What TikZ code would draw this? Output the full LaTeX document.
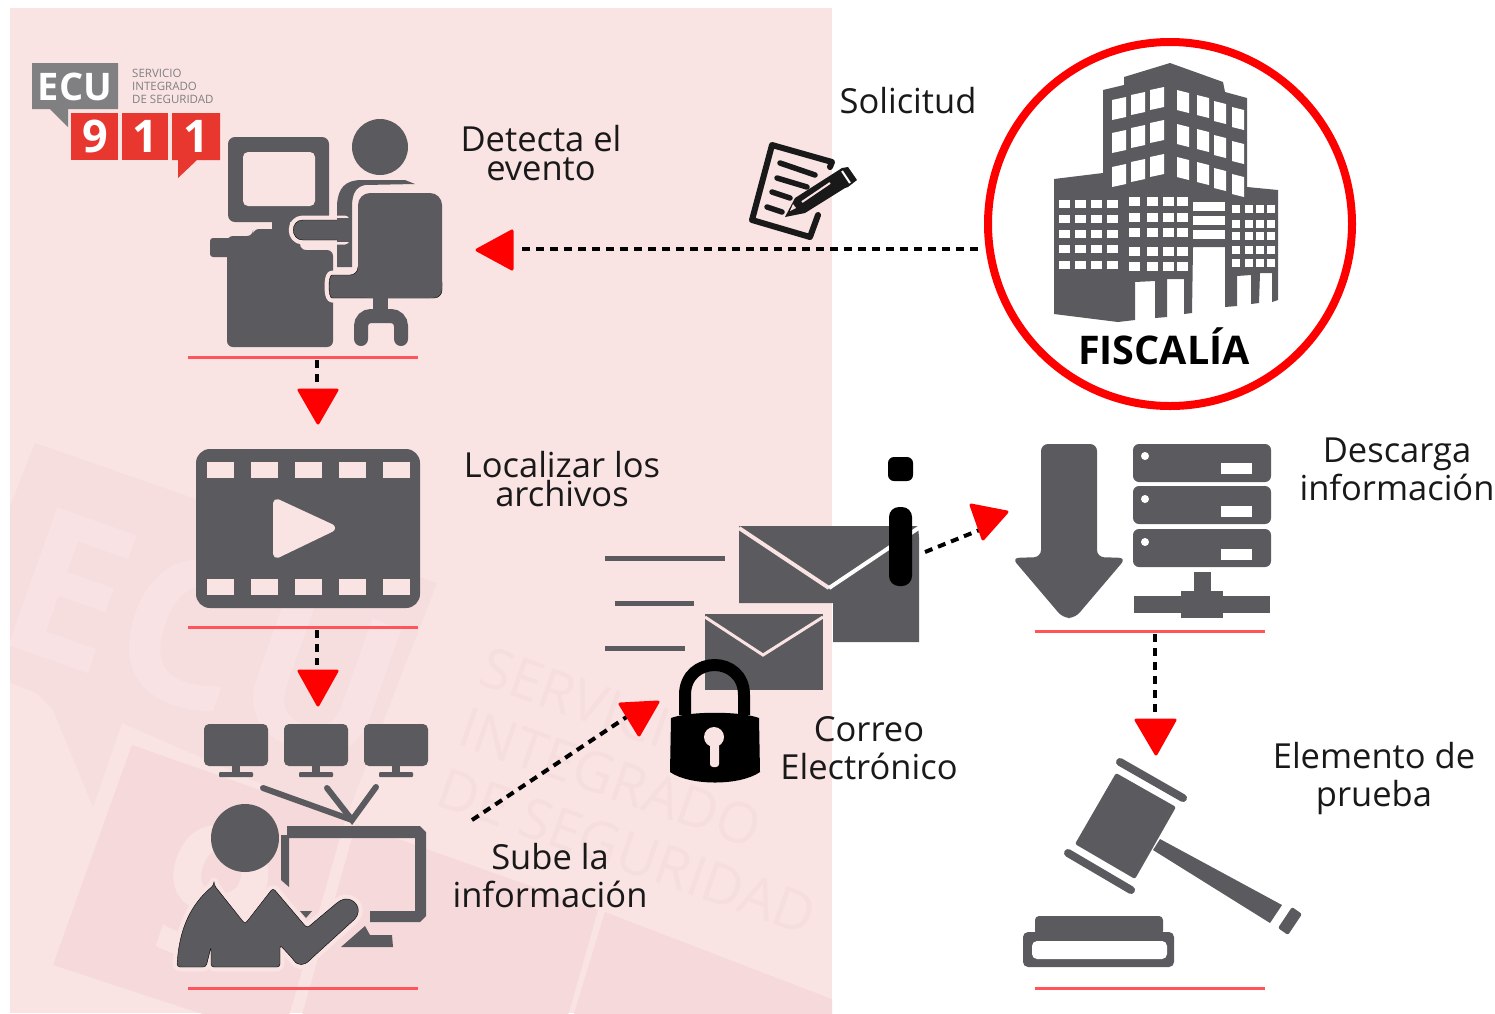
\documentclass[tikz,border=0pt]{standalone}
\usepackage{fontspec}
\setmainfont{Open Sans}
\definecolor{fondo}{HTML}{F9E3E3}
\definecolor{marca}{HTML}{F6DEDF}
\definecolor{marcab}{HTML}{F6D9DB}
\definecolor{marcaletra}{HTML}{F8E2E3}
\definecolor{marcatxt}{HTML}{F6DEDF}
\definecolor{icono}{HTML}{5B5A5E}
\definecolor{logogris}{HTML}{808082}
\definecolor{logorojo}{HTML}{E8372F}
\definecolor{linearoja}{HTML}{FF555A}
\tikzset{
  flujo/.style={line width=4pt, dash pattern=on 8pt off 6pt},
  punta/.style={fill=red, draw=red, line width=3pt, line join=round},
  base/.style={linearoja, line width=3pt},
  corte/.style={preaction={draw=fondo, line width=9pt, line join=round}, fill=icono},
  etiqueta/.style={font=\fontsize{34.5}{38}\selectfont, align=center, inner sep=0pt, text=black!90},
  etiquetab/.style={font=\fontsize{34.5}{29}\selectfont, align=center, inner sep=0pt, text=black!90}
}
\begin{document}
\begin{tikzpicture}[x=1pt,y=-1pt]
\useasboundingbox (0,0) rectangle (1495,1013);
\fill[white] (0,0) rectangle (1495,1013);
\fill[fondo] (10,8) rectangle (832,1013);

% marca de agua
\begin{scope}
\clip (10,8) rectangle (832,1013);
\fill[marca] (35,443) -- (437,583) -- (345,820) -- (122,723) -- (93,807) -- (53,710) -- (37,693) -- (-50,660) -- cycle;
\fill[marcab] (132,745) -- (345,820) -- (282,1040) -- (53,965) -- cycle;
\fill[marcab] (356,824) -- (598,910) -- (561,1040) -- (295,1040) -- cycle;
\fill[marcab] (605,912) -- (860,1010) -- (860,1040) -- (566,1040) -- cycle;
\node (wmecu) [rotate=-19.5, text=marcaletra, font=\fontsize{205}{205}\selectfont\bfseries, inner sep=0pt] at (205,637) {ECU};
\node (wmnueve) [rotate=-19.5, text=fondo, font=\fontsize{190}{190}\selectfont\bfseries, inner sep=0pt] at (215,895) {9};
\node (wmtxt) [rotate=-19.5, anchor=north west, align=left, text=marcatxt, inner sep=0pt, font=\fontsize{56}{64}\selectfont] at (490,645) {SERVICIO\\INTEGRADO\\DE SEGURIDAD};
\end{scope}

% logo
\fill[logogris] (32,63) -- (118,63) -- (118,109) -- (68,109) -- (68,127) -- (50,109) -- (32,109) -- cycle;
\node (ecu) [white, font=\fontsize{38}{38}\selectfont\bfseries, inner sep=0pt] at (75,87) {ECU};
\node (servicio) [logogris, anchor=west, align=left, inner sep=0pt, font=\fontsize{11.5}{13}\selectfont] at (132,86) {SERVICIO\\INTEGRADO\\DE SEGURIDAD};
\fill[logorojo] (71,113) rectangle (118,160);
\fill[logorojo] (122,113) rectangle (168,160);
\fill[logorojo] (172,113) -- (220,113) -- (220,160) -- (197,160) -- (178,178) -- (178,160) -- (172,160) -- cycle;
\node (nueve) [white, font=\fontsize{45}{45}\selectfont\bfseries, inner sep=0pt] at (95,136) {9};
\node (uno) [white, font=\fontsize{45}{45}\selectfont\bfseries, inner sep=0pt] at (145,136) {1};
\node (unob) [white, font=\fontsize{45}{45}\selectfont\bfseries, inner sep=0pt] at (196,136) {1};

% operador
\fill[icono, rounded corners=7pt] (228,137) rectangle (329,222);
\fill[fondo, rounded corners=5pt] (243,152) rectangle (315,206);
\fill[icono] (272,220) rectangle (290,232);
\fill[icono, rounded corners=3pt] (210,238) rectangle (240,257);
\fill[icono, rounded corners=6pt] (253,236) -- (253,229) -- (300,229) -- (300,250) -- (333,250) -- (333,347) -- (227,347) -- (227,236) -- cycle;
\fill[icono] (380,147) circle (28);
\fill[icono] (337,267) -- (337,205) .. controls (338,188) and (345,180) .. (362,180) -- (405,180) -- (415,184) -- (365,185) .. controls (355,187) and (352,195) .. (352,207) -- (352,267) -- cycle;
\draw[corte] (345,220) -- (303,220) .. controls (290,220) and (290,240) .. (303,240) -- (345,240) -- cycle;
\fill[icono] (337,218) rectangle (352,242);
\draw[corte, rounded corners=8pt] (358,275) -- (340,275) .. controls (328,275) and (328,298) .. (340,298) -- (442,298) -- (442,275) -- (358,275) -- cycle;
\fill[icono, rounded corners=12pt] (358,193) rectangle (442,298);
\fill[icono] (373,296) rectangle (388,312);
\draw[icono, line width=14pt, line cap=round, rounded corners=10pt] (361,339) -- (361,316) -- (401,316) -- (401,339);
\node (detecta) [etiquetab] at (541,153) {Detecta el\\evento};
\draw[base] (188,357) -- (418,357);

% video
\fill[icono, rounded corners=14pt] (196,449) rectangle (420,608);
\foreach \x in {207,251,295,339,383} {
  \fill[fondo] (\x,462) rectangle ++(27,16);
  \fill[fondo] (\x,579) rectangle ++(27,16);
}
\fill[fondo, draw=fondo, line width=8pt, line join=round] (277,503) -- (277,554) -- (331,528) -- cycle;
\node (localizar) [etiquetab] at (562,479) {Localizar los\\archivos};
\draw[base] (188,627) -- (418,627);

% monitores
\foreach \x in {236,316,396} {
  \fill[icono, rounded corners=5pt] (\x-32,724) rectangle (\x+32,766);
  \fill[icono] (\x-4,766) rectangle (\x+4,773);
  \fill[icono, rounded corners=1pt] (\x-17,772) rectangle (\x+17,777);
}
\draw[icono, line width=6pt, line cap=round] (263,788) -- (352,820);
\draw[icono, line width=6pt, line cap=round] (327,788) -- (352,820) -- (376,787);

% persona
\fill[icono] (287,826) -- (420,826) -- (426,832) -- (426,916) -- (420,922) -- (370,922) -- (370,911) -- (415,911) -- (415,838) -- (289,838) -- (289,887) -- (281,880) -- (281,835) -- (287,835) -- cycle;
\fill[icono] (341,947) -- (365,926) -- (370,935) -- (392,935) -- (393,947) -- cycle;
\fill[icono] (245,838) ellipse (34 and 34);
\fill[icono] (300,911) -- (312,911) -- (306,918) -- cycle;
\draw[corte, rounded corners=3pt] (214,885) -- (245,924) -- (273,888) -- (307,928) -- (338,902) .. controls (350,895) and (362,905) .. (356,918) -- (312,958) .. controls (304,966) and (298,966) .. (292,958) -- (280,945) -- (280,967) -- (211,967) -- (211,947) -- (206,967) -- (177,967) .. controls (179,930) and (190,905) .. (214,885) -- cycle;
\node (sube) [etiqueta] at (550,876) {Sube la\\información};
\draw[base] (188,988) -- (418,988);

% correo
\foreach \xa/\xb/\y in {605/725/558, 615/694/603, 605/685/648}
  \draw[icono, line width=5pt] (\xa,\y) -- (\xb,\y);
\fill[icono] (739,526) -- (918,526) -- (919,537) -- (919,642) -- (833,642) -- (833,603) -- (739,603) -- cycle;
\draw[fondo, line width=4pt] (739,528) -- (829,588);
\draw[white, line width=4pt] (829,588) -- (920,527);
\fill[icono] (705,614) rectangle (823,690);
\draw[fondo, line width=3pt] (705,617) -- (763,655) -- (823,617);
\draw[black, line width=12pt] (685,715) -- (685,695) .. controls (685,655) and (744,655) .. (744,695) -- (744,715);
\fill[black] (671,718) .. controls (690,711) and (740,711) .. (759,718) -- (760,772) .. controls (740,786) and (690,786) .. (670,772) -- cycle;
\fill[fondo] (714,737) circle (10);
\fill[fondo, rounded corners=3pt] (710,742) rectangle (719,767);
\fill[black, rounded corners=6pt] (888,457) rectangle (913,481);
\fill[black, rounded corners=10pt] (889,507) rectangle (912,586);
\node (correo) [etiqueta] at (869,748) {Correo\\Electrónico};

% solicitud
\node (solicitud) [etiqueta] at (908,101) {Solicitud};
\draw[black!90, line width=6pt, line join=round, line cap=round] (830,167) -- (832,162) -- (772,145) -- (752,220) -- (810,237) -- (818,215);
\foreach \xa/\ya/\xb/\yb in {780/163/815/175, 777/178/807/187, 772/192/790/198, 767/207/782/212}
  \draw[black!90, line width=5.5pt, line cap=round] (\xa,\ya) -- (\xb,\yb);
\draw[fondo, line width=5pt] (790,215) -- (810,219);
\fill[black!90] (785,217) -- (795,198) -- (842,168) -- (848,167) -- (857,180) -- (848,187) -- (845,188) -- (805,213) -- cycle;
\draw[fondo, line width=2pt] (802,202) -- (830,183);
\draw[white, line width=2pt] (842,171) -- (850,183);
\fill[fondo] (790,211) -- (796,208) -- (793,204) -- cycle;

% fiscalia
\draw[red, line width=8pt] (1170,224) circle (182);
\fill[icono] (1103,90) -- (1124,85) -- (1124,77) -- (1170,63) -- (1223,82) -- (1225,92) -- (1247,98) -- (1247,187) -- (1278,190) -- (1278,300) -- (1272,302) -- (1272,273) -- (1260,273) -- (1259,303) -- (1251,304) -- (1251,275) -- (1237,276) -- (1237,306) -- (1225,307) -- (1225,247) -- (1193,247) -- (1192,313) -- (1184,314) -- (1184,279) -- (1167,279) -- (1167,317) -- (1155,318) -- (1155,281) -- (1135,282) -- (1135,320) -- (1118,322) -- (1054,314) -- (1054,179) -- (1103,173) -- cycle;
\foreach \x/\d in {1112/10,1131/5,1150/0} \foreach \y in {90,123,157}
  \fill[white] (\x,\y+\d) -- ++(14,-3) -- ++(0,20) -- ++(-14,3) -- cycle;
\foreach \x/\d in {1177/0,1197/5,1214/11,1232/17} \foreach \y in {90,124,157}
  \fill[white] (\x,\y+\d) -- ++(12,3) -- ++(0,20) -- ++(-12,-3) -- cycle;
\foreach \x in {1059,1075,1091,1107} \foreach \y in {200,215,230,245,261}
  \fill[white] (\x,\y) rectangle ++(11,8);
\foreach \x in {1129,1147,1163,1177} \foreach \y in {197,213,228,247,262}
  \fill[white] (\x,\y) rectangle ++(11,9);
\foreach \y in {202,216,230}
  \fill[white] (1193,\y) rectangle (1225,\y+9);
\foreach \x in {1232,1245,1256,1267} \foreach \y in {205,220,232,246,259}
  \fill[white] (\x,\y) rectangle ++(8,8);
\node (fiscalia) [font=\fontsize{39.5}{39.5}\selectfont\bfseries, inner sep=0pt] at (1164,346) {FISCALÍA};

% descarga
\fill[icono, rounded corners=7pt] (1041,444) -- (1097,444) -- (1097,557) -- (1126,558) -- (1075,618) -- (1063,618) -- (1012,558) -- (1041,557) -- cycle;
\foreach \y/\dy in {444/456,486/499,529/542} {
  \fill[icono, rounded corners=6pt] (1133,\y) rectangle (1271,\y+38);
  \fill[white] (1145,\dy) circle (4);
  \fill[white] (1221,\dy+7) rectangle (1252,\dy+18);
}
\fill[icono] (1194,572) rectangle (1211,592);
\fill[icono] (1181,591) rectangle (1223,618);
\fill[icono] (1134,596) rectangle (1270,613);
\node (descarga) [etiqueta] at (1397,469) {Descarga\\información};
\draw[base] (1035,631) -- (1265,631);

% mazo
\fill[icono, rounded corners=2pt] (1116,773) -- (1176,807) -- (1135,879) -- (1075,844) -- cycle;
\draw[icono, line width=8pt, line cap=round] (1120,762) -- (1183,798);
\draw[icono, line width=8pt, line cap=round] (1068,853) -- (1131,890);
\fill[icono] (1160,839) -- (1282,905) -- (1270,923) -- (1153,850) -- cycle;
\fill[icono, rounded corners=2pt] (1292,907) -- (1302,914) -- (1288,935) -- (1278,928) -- cycle;
\fill[icono, rounded corners=4pt] (1035,935) -- (1035,916) -- (1163,916) -- (1163,935) -- cycle;
\fill[icono, rounded corners=5pt] (1023,932) rectangle (1174,967);
\fill[white, rounded corners=5pt] (1032,941) rectangle (1167,959);
\node (elemento) [etiqueta] at (1374,779) {Elemento de\\prueba};
\draw[base] (1035,988) -- (1265,988);

% flechas
\coordinate (fiscal) at (978,249);
\coordinate (opera) at (518,249);
\coordinate (ba) at (317,360);
\coordinate (bb) at (317,386);
\coordinate (ca) at (317,630);
\coordinate (cb) at (317,665);
\coordinate (da) at (472,820);
\coordinate (db) at (628,716);
\coordinate (ea) at (925,552);
\coordinate (eb) at (982,529);
\coordinate (fa) at (1155,634);
\coordinate (fb) at (1155,714);
\draw[flujo] (fiscal) -- (opera);
\draw[flujo] (ba) -- (bb);
\draw[flujo] (ca) -- (cb);
\draw[flujo] (da) -- (db);
\draw[flujo] (ea) -- (eb);
\draw[flujo] (fa) -- (fb);
\draw[punta] (512,231) -- (512,269) -- (477,250) -- cycle;
\draw[punta] (299,390) -- (337,390) -- (318,423) -- cycle;
\draw[punta] (299,671) -- (337,671) -- (318,705) -- cycle;
\draw[punta] (620,704) -- (658,702) -- (639,735) -- cycle;
\draw[punta] (971,505) -- (1007,512) -- (983,539) -- cycle;
\draw[punta] (1136,720) -- (1175,720) -- (1156,754) -- cycle;
\end{tikzpicture}
\end{document}
